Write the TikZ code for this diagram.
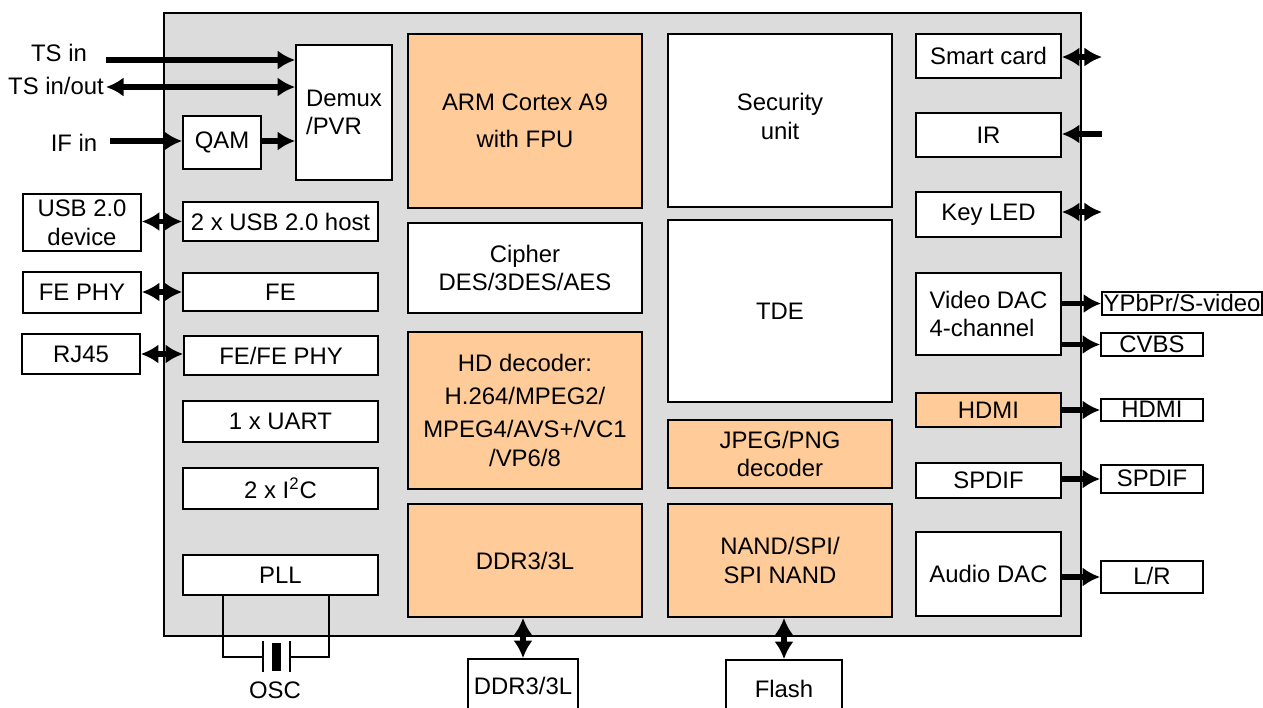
\documentclass[tikz,border=0pt]{standalone}
\usepackage{fontspec}
\setmainfont{Liberation Sans}
\usetikzlibrary{arrows.meta}
\definecolor{chipgray}{RGB}{220,220,220}
\definecolor{hotpart}{RGB}{255,204,153}
\begin{document}
\begin{tikzpicture}[x=0.02cm, y=-0.02cm, >={Latex[length=10pt,width=11pt]},
   every node/.style={font=\fontsize{13.6}{16.3}\selectfont},
   block/.style={rectangle, draw, fill=white, line width=1pt, align=center, inner sep=1pt},
   hot/.style={block, fill=hotpart},
   ext/.style={block, inner sep=0pt, text height=10pt, text depth=1pt},
   bus/.style={line width=3.2pt},
   wire/.style={line width=1pt},]
   \useasboundingbox (0,0) rectangle (1263,707);
   \node[block, fill=chipgray, minimum width=18.34cm, minimum height=12.46cm] (soc) at (622.5,324.5) {};

   \node[block, align=left, minimum width=1.92cm, minimum height=2.7cm] (demux) at (344,112.5) {Demux\\/PVR};
   \node[block, minimum width=1.56cm, minimum height=1.06cm] (qam) at (222,142.5) {QAM};
   \node[block, minimum width=2.36cm, minimum height=1.14cm] (usbdev) at (82,222.5) {USB 2.0\\device};
   \node[block, minimum width=3.9cm, minimum height=0.78cm] (usbhost) at (280.5,221.5) {2 x USB 2.0 host};
   \node[block, minimum width=2.36cm, minimum height=0.82cm] (fephy) at (82,292.5) {FE PHY};
   \node[block, minimum width=3.9cm, minimum height=0.76cm] (fe) at (280.5,292) {FE};
   \node[block, minimum width=2.36cm, minimum height=0.8cm] (rj45) at (81,354) {RJ45};
   \node[block, minimum width=3.88cm, minimum height=0.78cm] (fefephy) at (281,355.5) {FE/FE PHY};
   \node[block, minimum width=3.9cm, minimum height=0.82cm] (uart) at (280.5,421.5) {1 x UART};
   \node[block, minimum width=3.9cm, minimum height=0.82cm] (i2c) at (280.5,488.5) {2 x I\textsuperscript{2}C};
   \node[block, minimum width=3.9cm, minimum height=0.8cm] (pll) at (280.5,575) {PLL};

   \node[hot, minimum width=4.68cm, minimum height=3.48cm] (arm) at (525,121) {ARM Cortex A9\\[5pt]with FPU};
   \node[block, minimum width=4.68cm, minimum height=1.8cm] (cipher) at (525,268) {Cipher\\DES/3DES/AES};
   \node[hot, minimum width=4.68cm, minimum height=3.14cm] (hddec) at (525,410.5) {HD decoder:\\[2.5pt]H.264/MPEG2/\\[2.5pt]MPEG4/AVS+/VC1\\/VP6/8};
   \node[hot, minimum width=4.68cm, minimum height=2.26cm] (ddrctl) at (525,560.5) {DDR3/3L};

   \node[block, minimum width=4.48cm, minimum height=3.46cm, text depth=5pt] (secu) at (780,120.5) {Security\\unit};
   \node[block, minimum width=4.48cm, minimum height=3.64cm] (tde) at (780,311) {TDE};
   \node[hot, minimum width=4.48cm, minimum height=1.36cm] (jpeg) at (780,454) {JPEG/PNG\\decoder};
   \node[hot, minimum width=4.48cm, minimum height=2.26cm] (nand) at (780,560.5) {NAND/SPI/\\SPI NAND};

   \node[block, minimum width=2.9cm, minimum height=0.88cm] (smart) at (988.5,56) {Smart card};
   \node[block, minimum width=2.9cm, minimum height=0.88cm] (ir) at (988.5,135) {IR};
   \node[block, minimum width=2.9cm, minimum height=0.9cm] (keyled) at (988.5,214.5) {Key LED};
   \node[block, align=left, minimum width=2.9cm, minimum height=1.64cm] (vdac) at (988.5,314) {Video DAC\\4-channel};
   \node[hot, minimum width=2.9cm, minimum height=0.68cm] (hdmi) at (988.5,410) {HDMI};
   \node[block, minimum width=2.9cm, minimum height=0.7cm] (spdif) at (988.5,480.5) {SPDIF};
   \node[block, minimum width=2.9cm, minimum height=1.68cm] (adac) at (988.5,574) {Audio DAC};

   \node[ext, minimum width=3.2cm, minimum height=0.46cm] (ypbpr) at (1182,303.5) {YPbPr/S-video};
   \node[ext, minimum width=2.04cm, minimum height=0.46cm] (cvbs) at (1152,344.5) {CVBS};
   \node[ext, minimum width=2.04cm, minimum height=0.44cm] (hdmiout) at (1152,410) {HDMI};
   \node[ext, minimum width=2.04cm, minimum height=0.56cm] (spdifout) at (1152,479) {SPDIF};
   \node[ext, minimum width=2.04cm, minimum height=0.64cm] (lr) at (1152,577) {L/R};
   \node[block, minimum width=2.2cm, minimum height=1.08cm] (ddrext) at (523,686) {DDR3/3L};
   \node[block, minimum width=2.32cm, minimum height=1.16cm] (flash) at (784,689) {Flash};

   \node (tsinlbl) at (59,53) {TS in};
   \node (tsiolbl) at (56,86) {TS in/out};
   \node (iflbl) at (74,143) {IF in};
   \node (osclbl) at (275,690) {OSC};

   \coordinate (tsin) at (106,60);
   \coordinate (tsio) at (106,87);
   \coordinate (ifin) at (110,141);
   \coordinate (scard) at (1102,57);
   \coordinate (irin) at (1102,134);
   \coordinate (kled) at (1102,212);
   \coordinate (oscl) at (223,657);
   \coordinate (oscr) at (329,657);
   \coordinate (capl) at (263,657);
   \coordinate (capr) at (290,657);

   \draw[bus, ->] (tsin) -- (tsin -| demux.west);
   \draw[bus, <->] (tsio) -- (tsio -| demux.west);
   \draw[bus, ->] (ifin) -- (ifin -| qam.west);
   \draw[bus, ->] (qam.east |- ifin) -- (ifin -| demux.west);
   \draw[bus, <->] (usbdev.east |- usbhost) -- (usbhost.west);
   \draw[bus, <->] (fephy.east |- fe) -- (fe.west);
   \draw[bus, <->] (rj45.east) -- (rj45.east -| fefephy.west);
   \draw[bus, <->] (smart.east |- scard) -- (scard);
   \draw[bus, <-] (ir.east |- irin) -- (irin);
   \draw[bus, <->] (keyled.east |- kled) -- (kled);
   \draw[bus, ->] (vdac.east |- ypbpr) -- (ypbpr.west);
   \draw[bus, ->] (vdac.east |- cvbs) -- (cvbs.west);
   \draw[bus, ->] (hdmi) -- (hdmiout);
   \draw[bus, ->] (spdif.east |- spdifout) -- (spdifout.west);
   \draw[bus, ->] (adac.east |- lr) -- (lr.west);
   \draw[bus, <->] (ddrctl.south -| ddrext) -- (ddrext.north);
   \draw[bus, <->] (nand.south -| flash) -- (flash.north);

   \draw[wire] (oscl |- pll.south) -- (oscl) -- (capl);
   \draw[wire] (oscr |- pll.south) -- (oscr) -- (capr);
   \draw[wire] (263,641) -- (263,672);
   \draw[wire] (290,641) -- (290,672);
   \fill (271.5,643) rectangle (281,671);
 \end{tikzpicture}
\end{document}
